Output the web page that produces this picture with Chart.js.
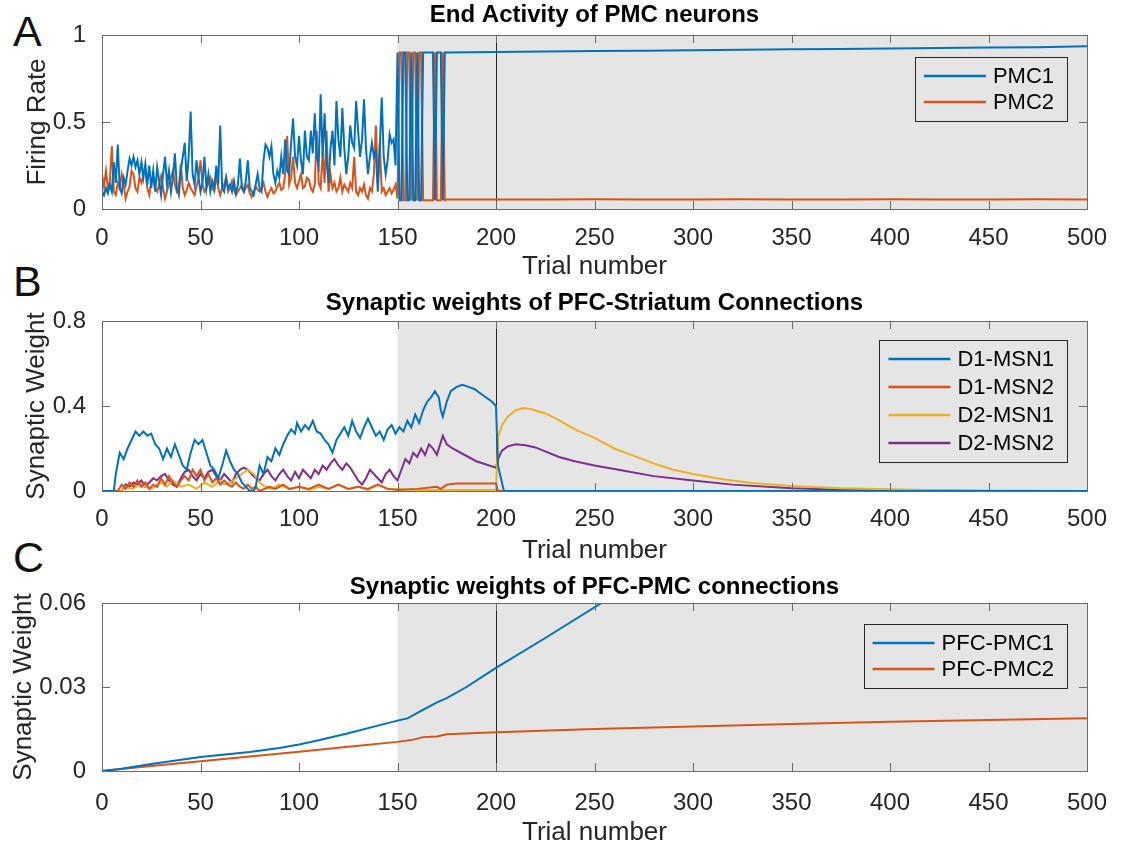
<!DOCTYPE html>
<html>
<head>
<meta charset="utf-8">
<script src="https://cdn.jsdelivr.net/npm/chart.js@4.4.1/dist/chart.umd.min.js"></script>
<style>
  body { margin: 0; background: #fff; width: 1124px; height: 848px; position: relative; overflow: hidden; }
  canvas { position: absolute; left: 0; }
  .letter { position: absolute; left: 13px; font: 43px "Liberation Sans", Arial, sans-serif; color: #111; line-height: 1; }
</style>
</head>
<body>
<div class="letter" style="top:10px">A</div>
<div class="letter" style="top:260px">B</div>
<div class="letter" style="top:536px">C</div>
<canvas id="chartA" width="1124" height="285" style="top:0px"></canvas>
<canvas id="chartB" width="1124" height="285" style="top:285px"></canvas>
<canvas id="chartC" width="1124" height="278" style="top:570px"></canvas>
<script>
// shared x axis / phases
const trialTicks = [0, 50, 100, 150, 200, 250, 300, 350, 400, 450, 500];
const shadeStart = 150;
const shadeEnd = 500;
const switchTrial = 200;

// --- Panel A: end activity of PMC neurons ---
const firingTicks = [0, 0.5, 1];
// trials 0..149, one value per trial
const pmc1Early = [
  0.10,0.08,0.12,0.09,0.14,0.10,0.27,0.15,0.37,0.12,
  0.09,0.18,0.14,0.22,0.29,0.25,0.30,0.24,0.28,0.20,
  0.27,0.18,0.26,0.14,0.25,0.12,0.22,0.10,0.24,0.16,
  0.08,0.20,0.30,0.14,0.22,0.10,0.18,0.32,0.12,0.08,
  0.22,0.30,0.38,0.16,0.30,0.56,0.20,0.14,0.28,0.18,
  0.10,0.15,0.30,0.12,0.20,0.10,0.16,0.12,0.25,0.14,
  0.48,0.12,0.10,0.18,0.12,0.14,0.10,0.16,0.09,0.14,
  0.29,0.12,0.10,0.16,0.28,0.12,0.10,0.08,0.14,0.20,
  0.12,0.10,0.28,0.37,0.35,0.30,0.36,0.20,0.15,0.22,
  0.18,0.30,0.20,0.40,0.22,0.20,0.38,0.52,0.30,0.25,
  0.42,0.28,0.20,0.45,0.30,0.28,0.45,0.32,0.55,0.30,
  0.25,0.66,0.30,0.55,0.28,0.15,0.35,0.45,0.25,0.62,
  0.40,0.30,0.58,0.35,0.20,0.30,0.48,0.38,0.35,0.62,
  0.45,0.30,0.40,0.63,0.35,0.20,0.30,0.38,0.30,0.33,
  0.10,0.35,0.64,0.30,0.20,0.28,0.43,0.38,0.40,0.25
];
const pmc2Early = [
  0.20,0.13,0.22,0.12,0.16,0.36,0.10,0.08,0.15,0.12,
  0.20,0.14,0.06,0.10,0.13,0.22,0.20,0.12,0.10,0.18,
  0.15,0.20,0.22,0.12,0.08,0.16,0.18,0.12,0.10,0.14,
  0.19,0.12,0.06,0.10,0.15,0.18,0.22,0.14,0.10,0.12,
  0.26,0.12,0.08,0.11,0.15,0.12,0.10,0.08,0.13,0.18,
  0.28,0.14,0.10,0.12,0.15,0.18,0.12,0.10,0.20,0.12,
  0.08,0.12,0.14,0.18,0.10,0.12,0.16,0.11,0.08,0.10,
  0.12,0.14,0.10,0.12,0.14,0.09,0.07,0.10,0.13,0.11,
  0.10,0.12,0.15,0.10,0.07,0.10,0.12,0.09,0.10,0.13,
  0.15,0.11,0.12,0.20,0.42,0.14,0.18,0.30,0.15,0.12,
  0.16,0.20,0.12,0.13,0.18,0.17,0.12,0.10,0.14,0.45,
  0.15,0.12,0.33,0.15,0.45,0.10,0.20,0.12,0.15,0.10,
  0.12,0.18,0.10,0.14,0.12,0.10,0.15,0.12,0.30,0.10,
  0.08,0.12,0.10,0.14,0.08,0.06,0.12,0.10,0.20,0.48,
  0.15,0.38,0.10,0.12,0.08,0.10,0.12,0.09,0.11,0.14
];
const pmcLateTrials = [150,151,152,153,154,155,156,157,158,159,160,161,162,163,164,165,166,167,168,169,170,171,172,173,174,175,
  200,225,250,275,300,325,350,375,400,425,450,475,500];
const pmc1Late = [0.90,0.05,0.05,0.90,0.90,0.05,0.05,0.90,0.05,0.05,0.90,0.05,0.05,0.90,0.90,0.90,0.90,0.90,0.90,0.05,0.90,0.90,0.90,0.05,0.90,0.90,
  0.903,0.905,0.908,0.910,0.912,0.915,0.918,0.920,0.923,0.925,0.928,0.930,0.935];
const pmc2Late = [0.06,0.90,0.90,0.05,0.05,0.90,0.90,0.05,0.90,0.90,0.05,0.90,0.90,0.05,0.05,0.05,0.05,0.05,0.05,0.90,0.05,0.05,0.05,0.90,0.05,0.055,
  0.055,0.054,0.056,0.055,0.054,0.056,0.055,0.054,0.056,0.055,0.054,0.056,0.055];

// --- Panel B: PFC-Striatum weights ---
const weightTicksB = [0, 0.4, 0.8];
const d1msn1Trials = [0,6,7,9,11,13,15,17,19,21,23,25,27,29,31,33,35,37,39,41,43,45,47,49,51,53,55,57,59,61,63,65,67,69,71,73,75,77,78,80,82,84,86,88,90,92,94,96,98,99,101,103,105,107,109,111,113,115,117,119,121,123,125,127,129,131,133,135,137,139,141,143,145,147,149,151,153,155,157,159,161,163,165,167,169,171,172,173,175,177,180,183,186,189,192,195,198,200,201,204,500];
const d1msn1 = [0,0,0.08,0.18,0.15,0.20,0.24,0.28,0.26,0.28,0.26,0.27,0.22,0.20,0.15,0.20,0.16,0.22,0.17,0.12,0.10,0.18,0.24,0.22,0.24,0.18,0.12,0.10,0.06,0.12,0.19,0.14,0.10,0.08,0.04,0.02,0.00,0.00,0.02,0.12,0.08,0.16,0.14,0.20,0.17,0.22,0.26,0.29,0.27,0.32,0.28,0.31,0.29,0.33,0.28,0.27,0.24,0.22,0.18,0.24,0.27,0.30,0.26,0.33,0.28,0.25,0.30,0.34,0.30,0.26,0.28,0.24,0.29,0.31,0.27,0.30,0.28,0.33,0.30,0.36,0.32,0.38,0.42,0.44,0.47,0.44,0.38,0.35,0.42,0.47,0.49,0.50,0.49,0.48,0.46,0.44,0.42,0.40,0.12,0,0];
const d1msn2Trials = [0,8,10,12,14,16,18,20,22,24,26,28,30,32,34,36,38,40,42,44,46,48,50,52,54,56,58,60,62,64,66,68,70,72,74,76,78,80,85,88,92,95,100,105,110,115,120,125,130,135,140,145,150,160,170,172,175,180,200,201,500];
const d1msn2 = [0,0,0.03,0.01,0.04,0.02,0.05,0.02,0.04,0.01,0.03,0.02,0.06,0.03,0.07,0.04,0.02,0.05,0.07,0.05,0.10,0.07,0.10,0.05,0.08,0.04,0.06,0.03,0.05,0.03,0.02,0.04,0.02,0.01,0.03,0.01,0.02,0,0.02,0.01,0.03,0.01,0.02,0.01,0.03,0.01,0.03,0.01,0.02,0.01,0.03,0.01,0.005,0.01,0.02,0.01,0.03,0.035,0.035,0,0];
const d2msn1Trials = [0,10,12,15,20,25,30,33,36,40,44,48,52,56,60,62,65,68,71,74,77,80,83,86,90,95,100,105,110,115,120,125,130,135,140,145,150,160,170,200,201,203,206,210,214,218,225,232,240,250,260,270,280,290,300,315,330,350,375,400,425,450,500];
const d2msn1 = [0,0,0.02,0.01,0.03,0.01,0.04,0.02,0.05,0.02,0.03,0.01,0.04,0.02,0.05,0.03,0.04,0.06,0.08,0.10,0.08,0.04,0.02,0.01,0.03,0.01,0.02,0.005,0.02,0.01,0.03,0.01,0.02,0.005,0.03,0.01,0.01,0.005,0.005,0.005,0.25,0.31,0.35,0.38,0.39,0.385,0.365,0.334,0.29,0.25,0.20,0.165,0.13,0.10,0.08,0.055,0.038,0.024,0.013,0.008,0.004,0.002,0];
const d2msn2Trials = [0,10,12,14,16,18,20,22,24,26,28,30,32,34,36,38,40,42,44,46,48,50,52,54,56,58,60,62,64,66,68,70,72,74,76,78,80,82,84,86,88,90,92,94,96,98,100,102,104,106,108,110,112,114,116,118,120,122,124,126,128,130,132,134,136,138,140,142,144,146,148,150,152,154,156,158,160,162,164,166,168,170,172,173,175,178,182,186,190,195,200,201,203,206,210,215,220,232,240,250,265,280,300,320,350,380,400,450,500];
const d2msn2 = [0,0,0.03,0.02,0.04,0.03,0.05,0.02,0.04,0.06,0.05,0.07,0.08,0.05,0.03,0.02,0.06,0.09,0.10,0.07,0.05,0.08,0.06,0.09,0.10,0.07,0.05,0.08,0.06,0.04,0.08,0.10,0.11,0.10,0.08,0.06,0.05,0.08,0.10,0.07,0.05,0.08,0.10,0.07,0.05,0.09,0.06,0.10,0.08,0.06,0.10,0.08,0.12,0.10,0.13,0.15,0.12,0.10,0.13,0.11,0.08,0.05,0.03,0.06,0.10,0.08,0.06,0.04,0.08,0.10,0.07,0.05,0.10,0.15,0.13,0.18,0.16,0.20,0.17,0.22,0.20,0.17,0.23,0.26,0.22,0.20,0.18,0.16,0.14,0.125,0.11,0.15,0.19,0.21,0.22,0.215,0.205,0.16,0.14,0.12,0.095,0.07,0.049,0.03,0.0125,0.005,0.003,0,0];

// --- Panel C: PFC-PMC weights ---
const weightTicksC = [0, 0.03, 0.06];
const pfcPmc1Trials = [0,10,25,50,75,90,100,110,125,140,150,155,162,170,175,185,200,225,254];
const pfcPmc1 = [0,0.0008,0.0025,0.005,0.0068,0.0082,0.0095,0.011,0.0135,0.0162,0.018,0.0188,0.0215,0.0245,0.026,0.030,0.0368,0.0475,0.0602];
const pfcPmc2Trials = [0,25,50,75,100,125,150,158,163,170,175,200,250,300,350,400,450,500];
const pfcPmc2 = [0,0.0018,0.0035,0.0052,0.0069,0.0087,0.0104,0.0112,0.0121,0.0123,0.0131,0.0138,0.0150,0.0159,0.0168,0.0176,0.0182,0.0188];

const BLUE = '#0072BD', ORANGE = '#D95319', YELLOW = '#EDB120', PURPLE = '#7E2F8E';
const FONT = '"Liberation Sans", Arial, Helvetica, sans-serif';

function toPoints(xs, ys) {
  return xs.map((x, i) => ({x: x, y: ys[i]}));
}

// grey background for trials 150-500 and the black line at 200
const shadePlugin = {
  id: 'shade',
  beforeDatasetsDraw(chart) {
    const {ctx, chartArea: a, scales: {x}} = chart;
    ctx.save();
    ctx.fillStyle = '#e5e5e5';
    const x0 = x.getPixelForValue(shadeStart), x1 = x.getPixelForValue(shadeEnd);
    ctx.fillRect(x0, a.top, x1 - x0, a.bottom - a.top);
    const xs = Math.round(x.getPixelForValue(switchTrial)) + 0.5;
    ctx.strokeStyle = '#262626';
    ctx.lineWidth = 1;
    ctx.beginPath();
    ctx.moveTo(xs, a.top);
    ctx.lineTo(xs, a.bottom);
    ctx.stroke();
    ctx.restore();
  }
};

// matlab-like box with inward ticks on all four sides
const framePlugin = {
  id: 'frame',
  afterDatasetsDraw(chart) {
    const {ctx, chartArea: a, scales: {x, y}} = chart;
    const tl = 8;
    ctx.save();
    ctx.strokeStyle = '#6a6a6a';
    ctx.lineWidth = 1;
    ctx.beginPath();
    x.ticks.forEach(t => {
      const px = Math.round(x.getPixelForValue(t.value)) + 0.5;
      ctx.moveTo(px, a.top); ctx.lineTo(px, a.top + tl);
      ctx.moveTo(px, a.bottom); ctx.lineTo(px, a.bottom - tl);
    });
    y.ticks.forEach(t => {
      const py = Math.round(y.getPixelForValue(t.value)) + 0.5;
      ctx.moveTo(a.left, py); ctx.lineTo(a.left + tl, py);
      ctx.moveTo(a.right, py); ctx.lineTo(a.right - tl, py);
    });
    ctx.stroke();
    ctx.strokeRect(Math.round(a.left) + 0.5, Math.round(a.top) + 0.5,
      Math.round(a.right - a.left), Math.round(a.bottom - a.top));
    ctx.restore();
  }
};

// bold title centred over the plot box (not the whole canvas)
const panelTitle = {
  id: 'panelTitle',
  afterDraw(chart, args, opts) {
    const {ctx, chartArea: a} = chart;
    ctx.save();
    ctx.font = 'bold 24px ' + FONT;
    ctx.fillStyle = '#000';
    ctx.textAlign = 'center';
    ctx.textBaseline = 'middle';
    ctx.fillText(opts.text, (a.left + a.right) / 2, opts.y);
    ctx.restore();
  }
};

// legend box drawn inside the top right corner of the plot
const boxLegend = {
  id: 'boxLegend',
  afterDraw(chart, args, opts) {
    const {ctx, chartArea: a} = chart;
    const sets = chart.data.datasets;
    ctx.save();
    ctx.font = '22px ' + FONT;
    const textW = Math.max(...sets.map(d => ctx.measureText(d.label).width));
    const w = 9 + 62 + 7 + textW + 13;
    const h = 19 * 2 + (sets.length - 1) * opts.rowH;
    const right = a.right - 20, top = a.top + opts.top;
    const left = right - w;
    ctx.strokeStyle = '#262626';
    ctx.lineWidth = 1;
    ctx.strokeRect(Math.round(left) + 0.5, Math.round(top) + 0.5, Math.round(w), Math.round(h));
    ctx.textBaseline = 'middle';
    ctx.fillStyle = '#000';
    sets.forEach((d, i) => {
      const cy = top + 19 + i * opts.rowH;
      ctx.strokeStyle = d.borderColor;
      ctx.lineWidth = 2.5;
      ctx.beginPath();
      ctx.moveTo(left + 9, cy);
      ctx.lineTo(left + 71, cy);
      ctx.stroke();
      ctx.fillText(d.label, left + 78, cy + 1);
    });
    ctx.restore();
  }
};

function lineSet(label, xs, ys, color) {
  return {
    label: label,
    data: toPoints(xs, ys),
    borderColor: color,
    backgroundColor: color,
    borderWidth: 2,
    pointRadius: 0,
    tension: 0,
    fill: false
  };
}

function makeChart(id, cfg) {
  return new Chart(document.getElementById(id), {
    type: 'line',
    data: {datasets: cfg.datasets},
    plugins: [shadePlugin, framePlugin, panelTitle, boxLegend],
    options: {
      responsive: false,
      animation: false,
      events: [],
      layout: {padding: {left: 0, right: 37, top: cfg.top, bottom: 0}},
      plugins: {
        legend: {display: false},
        tooltip: {enabled: false},
        title: {display: false},
        panelTitle: {text: cfg.title, y: cfg.titleY},
        boxLegend: {top: cfg.legendTop, rowH: cfg.rowH}
      },
      scales: {
        x: {
          type: 'linear',
          min: 0,
          max: 500,
          afterBuildTicks: s => { s.ticks = trialTicks.map(v => ({value: v})); },
          afterFit: s => { s.height = cfg.xHeight; },
          grid: {display: false},
          border: {display: false},
          ticks: {color: '#262626', font: {family: FONT, size: 24}, padding: cfg.xTickPad, maxRotation: 0, autoSkip: false,
            callback: v => String(v)},
          title: {display: true, text: 'Trial number', color: '#262626', font: {family: FONT, size: 26}, padding: {top: 0, bottom: cfg.xTitlePad}}
        },
        y: {
          min: cfg.yTicks[0],
          max: cfg.yTicks[cfg.yTicks.length - 1],
          afterBuildTicks: s => { s.ticks = cfg.yTicks.map(v => ({value: v})); },
          afterFit: s => { s.width = 102; },
          grid: {display: false},
          border: {display: false},
          ticks: {color: '#262626', font: {family: FONT, size: 24}, padding: 8, callback: v => String(v)},
          title: {display: true, text: cfg.yTitle, color: '#262626', font: {family: FONT, size: 26}, padding: {top: cfg.yTitlePad, bottom: 0}}
        }
      }
    }
  });
}

makeChart('chartA', {
  title: 'End Activity of PMC neurons',
  top: 35,
  titleY: 15,
  xHeight: 76,
  xTickPad: 7,
  xTitlePad: 3,
  yTitle: 'Firing Rate',
  yTitlePad: 22,
  yTicks: firingTicks,
  legendTop: 22,
  rowH: 26,
  datasets: [
    lineSet('PMC1', pmc1Early.map((v, i) => i).concat(pmcLateTrials), pmc1Early.concat(pmc1Late), BLUE),
    lineSet('PMC2', pmc2Early.map((v, i) => i).concat(pmcLateTrials), pmc2Early.concat(pmc2Late), ORANGE)
  ]
});

makeChart('chartB', {
  title: 'Synaptic weights of PFC-Striatum Connections',
  top: 36,
  titleY: 18,
  xHeight: 79,
  xTickPad: 6,
  xTitlePad: 4,
  yTitle: 'Synaptic Weight',
  yTitlePad: 21,
  yTicks: weightTicksB,
  legendTop: 19,
  rowH: 28,
  datasets: [
    lineSet('D1-MSN1', d1msn1Trials, d1msn1, BLUE),
    lineSet('D1-MSN2', d1msn2Trials, d1msn2, ORANGE),
    lineSet('D2-MSN1', d2msn1Trials, d2msn1, YELLOW),
    lineSet('D2-MSN2', d2msn2Trials, d2msn2, PURPLE)
  ]
});

makeChart('chartC', {
  title: 'Synaptic weights of PFC-PMC connections',
  top: 33,
  titleY: 17,
  xHeight: 77,
  xTickPad: 10,
  xTitlePad: 0,
  yTitle: 'Synaptic Weight',
  yTitlePad: 8,
  yTicks: weightTicksC,
  legendTop: 21,
  rowH: 26,
  datasets: [
    lineSet('PFC-PMC1', pfcPmc1Trials, pfcPmc1, BLUE),
    lineSet('PFC-PMC2', pfcPmc2Trials, pfcPmc2, ORANGE)
  ]
});
</script>
</body>
</html>
